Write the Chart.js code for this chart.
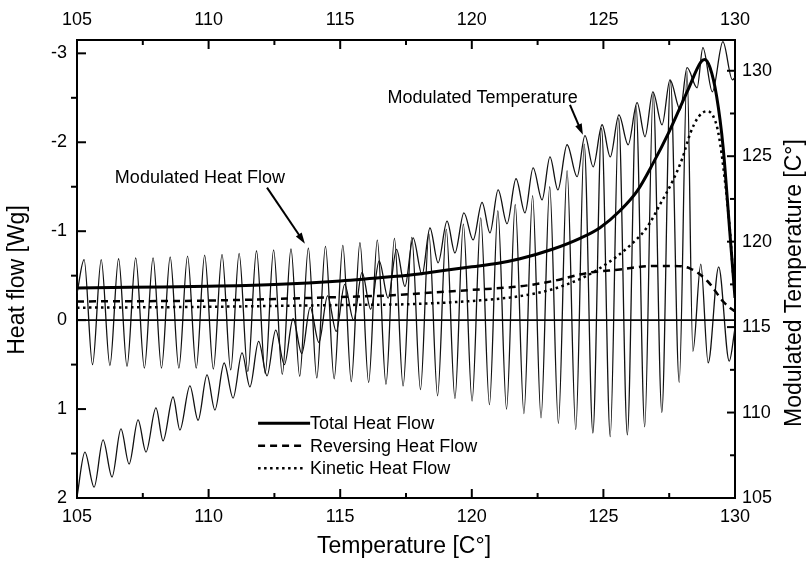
<!DOCTYPE html>
<html>
<head>
<meta charset="utf-8">
<script src="https://cdn.jsdelivr.net/npm/chart.js@4.4.1/dist/chart.umd.min.js"></script>
<style>
  body { margin: 0; background: #fff; }
</style>
</head>
<body>
<canvas id="chart" width="808" height="566"></canvas>
<script>
// tick values
const tempTicks = [105, 110, 115, 120, 125, 130];
const tempMinor = [107.5, 112.5, 117.5, 122.5, 127.5];
const flowTicks = [-3, -2, -1, 0, 1, 2];
const flowMinor = [-2.5, -1.5, -0.5, 0.5, 1.5];
const modTempTicks = [105, 110, 115, 120, 125, 130];
const modTempMinor = [107.5, 112.5, 117.5, 122.5, 127.5];

const flowStart = [105.0, -0.30];
const flowPeakT = [105.27, 105.92, 106.58, 107.23, 107.89, 108.54, 109.20, 109.85, 110.51, 111.16,
  111.82, 112.47, 113.13, 113.79, 114.44, 115.10, 115.75, 116.41, 117.06, 117.72,
  118.37, 119.03, 119.68, 120.34, 120.99, 121.65, 122.31, 122.96, 123.62, 124.27,
  124.93, 125.58, 126.24, 126.89, 127.55, 128.18, 128.70, 129.38];
const flowPeakV = [-0.68, -0.68, -0.69, -0.70, -0.70, -0.71, -0.72, -0.73, -0.74, -0.75,
  -0.78, -0.79, -0.80, -0.81, -0.83, -0.84, -0.87, -0.90, -0.92, -0.93,
  -0.97, -1.02, -1.08, -1.15, -1.23, -1.30, -1.40, -1.50, -1.68, -1.98,
  -2.16, -2.27, -2.41, -2.55, -2.69, -2.80, -0.63, -0.60];
const flowTroughT = [105.59, 106.25, 106.90, 107.56, 108.21, 108.87, 109.53, 110.18, 110.84, 111.49,
  112.15, 112.80, 113.46, 114.11, 114.77, 115.42, 116.08, 116.74, 117.39, 118.05,
  118.70, 119.36, 120.01, 120.67, 121.32, 121.98, 122.63, 123.29, 123.95, 124.60,
  125.26, 125.91, 126.57, 127.22, 127.88, 128.40, 128.98, 129.78];
const flowTroughV = [0.50, 0.51, 0.52, 0.54, 0.54, 0.54, 0.54, 0.55, 0.56, 0.58,
  0.60, 0.61, 0.63, 0.65, 0.66, 0.69, 0.70, 0.72, 0.74, 0.78,
  0.85, 0.88, 0.91, 0.95, 1.00, 1.05, 1.10, 1.16, 1.23, 1.27,
  1.31, 1.29, 1.20, 1.04, 0.70, 0.35, 0.48, 0.46];
const flowEnd = [130.0, 0.09];

// modulated temperature, peaks and troughs [°C, right axis]
const tempStart = [105.0, 105.06];
const tempPeakT = [105.30, 105.99, 106.67, 107.32, 108.00, 108.65, 109.29, 109.94, 110.59, 111.27,
  111.90, 112.55, 113.21, 113.86, 114.52, 115.17, 115.83, 116.48, 117.14, 117.77,
  118.41, 119.06, 119.70, 120.39, 121.00, 121.68, 122.33, 122.97, 123.62, 124.30,
  124.95, 125.59, 126.28, 126.88, 127.53, 128.18, 128.78, 129.54];
const tempPeakV = [107.69, 108.40, 109.04, 109.57, 110.27, 110.91, 111.56, 112.20, 112.90, 113.49,
  114.16, 114.82, 115.49, 116.16, 116.83, 117.50, 118.20, 118.88, 119.55, 120.22,
  120.80, 121.20, 121.69, 122.30, 123.03, 123.68, 124.32, 124.96, 125.67, 126.20,
  126.84, 127.42, 128.13, 128.77, 129.47, 130.18, 131.35, 131.70];
const tempTroughT = [105.65, 106.33, 106.98, 107.62, 108.27, 108.91, 109.60, 110.24, 110.93, 111.57,
  112.22, 112.88, 113.54, 114.19, 114.85, 115.51, 116.16, 116.82, 117.46, 118.11,
  118.72, 119.36, 120.05, 120.69, 121.34, 122.02, 122.67, 123.27, 124.00, 124.61,
  125.26, 125.94, 126.58, 127.23, 127.92, 128.56, 129.14, 129.90];
const tempTroughV = [105.64, 106.23, 106.99, 107.69, 108.34, 108.98, 109.55, 110.15, 110.85, 111.50,
  112.15, 112.80, 113.45, 114.10, 114.75, 115.40, 116.05, 116.70, 117.38, 118.06,
  118.76, 119.34, 120.10, 120.51, 121.05, 121.69, 122.45, 123.03, 123.80, 124.38,
  124.96, 125.67, 126.14, 126.84, 127.72, 129.00, 128.77, 129.47];
const tempEnd = [130.0, 129.60];

// total / reversing / kinetic heat flow
const totalT = [105, 107, 110, 112.5, 115, 117, 118, 119, 120, 121, 121.83, 123.09, 124.11, 124.87, 125.63, 126.28,
  126.88, 127.5, 128.2, 128.7, 128.85, 129.05, 129.3, 129.55, 129.8, 130];
const totalV = [-0.36, -0.37, -0.38, -0.40, -0.44, -0.49, -0.52, -0.56, -0.60, -0.64, -0.69, -0.80, -0.92, -1.04, -1.23, -1.45,
  -1.76, -2.12, -2.58, -2.90, -2.93, -2.84, -2.52, -1.94, -1.00, -0.25];
const reversingT = [105, 110, 115, 117, 118, 120, 121.83, 123.09, 124.38, 125.63, 126.88, 127.6, 128.3, 128.95, 129.55, 129.8, 130];
const reversingV = [-0.21, -0.22, -0.26, -0.28, -0.30, -0.34, -0.38, -0.44, -0.53, -0.57, -0.61, -0.61, -0.58, -0.44, -0.21, -0.14, -0.10];
const kineticT = [105, 110, 115, 117.65, 120.2, 121.83, 123.09, 124.38, 125.1, 125.9, 126.65, 127.15, 127.64, 128.0,
  128.3, 128.6, 128.94, 129.16, 129.35, 129.54, 129.81, 129.92, 130];
const kineticV = [-0.14, -0.15, -0.17, -0.18, -0.22, -0.27, -0.35, -0.50, -0.63, -0.81, -1.04, -1.30, -1.57, -1.82,
  -2.10, -2.28, -2.35, -2.30, -2.13, -1.76, -1.00, -0.55, -0.32];

const zeroT = [105, 130];
const zeroV = [0, 0];

const FONT = '"Liberation Sans", Arial, sans-serif';

function pairs(xs, ys) {
  return xs.map((x, i) => ({ x: x, y: ys[i] }));
}

function waves(start, pT, pV, tT, tV, end) {
  const pts = [{ x: start[0], y: start[1] }];
  pT.forEach((x, i) => {
    pts.push({ x: x, y: pV[i] });
    pts.push({ x: tT[i], y: tV[i] });
  });
  pts.push({ x: end[0], y: end[1] });
  return pts;
}

// text notes with arrows, in data units
const notes = [
  { text: 'Modulated Heat Flow', axis: 'y', at: [109.67, -1.54], from: [112.22, -1.49], to: [113.66, -0.86] },
  { text: 'Modulated Temperature', axis: 'yT', at: [120.41, 128.13], from: [123.73, 128.0], to: [124.22, 126.25] }
];

const legendRows = [
  { label: 'Total Heat Flow', ds: 0, len: 52 },
  { label: 'Reversing Heat Flow', ds: 1, len: 44 },
  { label: 'Kinetic Heat Flow', ds: 2, len: 48 }
];

function arrow(ctx, x1, y1, x2, y2) {
  const ang = Math.atan2(y2 - y1, x2 - x1), L = 11, W = 3.5;
  const c = Math.cos(ang), s = Math.sin(ang);
  ctx.beginPath();
  ctx.moveTo(x1, y1);
  ctx.lineTo(x2 - L * c * 0.7, y2 - L * s * 0.7);
  ctx.stroke();
  ctx.beginPath();
  ctx.moveTo(x2, y2);
  ctx.lineTo(x2 - L * c + W * s, y2 - L * s - W * c);
  ctx.lineTo(x2 - L * c - W * s, y2 - L * s + W * c);
  ctx.closePath();
  ctx.fill();
}

const decor = {
  id: 'decor',
  afterDatasetsDraw(chart) {
    const ctx = chart.ctx, a = chart.chartArea, sc = chart.scales;
    const sx = sc.x, sy = sc.y, st = sc.yT;
    ctx.save();
    ctx.strokeStyle = '#000';
    ctx.fillStyle = '#000';
    ctx.lineWidth = 2;
    const seg = (x1, y1, x2, y2) => { ctx.beginPath(); ctx.moveTo(x1, y1); ctx.lineTo(x2, y2); ctx.stroke(); };

    // ticks drawn inward like the original
    tempTicks.forEach(v => { const x = sx.getPixelForValue(v); seg(x, a.bottom, x, a.bottom - 9); seg(x, a.top, x, a.top + 9); });
    tempMinor.forEach(v => { const x = sx.getPixelForValue(v); seg(x, a.bottom, x, a.bottom - 5); seg(x, a.top, x, a.top + 5); });
    flowTicks.forEach(v => { const y = sy.getPixelForValue(v); seg(a.left, y, a.left + 9, y); });
    flowMinor.forEach(v => { const y = sy.getPixelForValue(v); seg(a.left - 6, y, a.left, y); });
    modTempTicks.forEach(v => { const y = st.getPixelForValue(v); seg(a.right - 8, y, a.right, y); });
    modTempMinor.forEach(v => { const y = st.getPixelForValue(v); seg(a.right - 5, y, a.right, y); });

    // notes
    ctx.font = '18px ' + FONT;
    ctx.textAlign = 'center';
    ctx.textBaseline = 'alphabetic';
    notes.forEach(n => {
      const ys = sc[n.axis];
      ctx.fillText(n.text, sx.getPixelForValue(n.at[0]), ys.getPixelForValue(n.at[1]));
      ctx.lineWidth = 2;
      arrow(ctx, sx.getPixelForValue(n.from[0]), ys.getPixelForValue(n.from[1]),
        sx.getPixelForValue(n.to[0]), ys.getPixelForValue(n.to[1]));
    });

    // legend
    const lx = sx.getPixelForValue(111.88), ly = sy.getPixelForValue(1.16);
    ctx.textAlign = 'left';
    ctx.textBaseline = 'middle';
    legendRows.forEach((r, i) => {
      const ds = chart.data.datasets[r.ds];
      const y = ly + i * 22.5;
      ctx.save();
      ctx.lineWidth = ds.borderWidth;
      ctx.setLineDash(ds.borderDash || []);
      seg(lx, y, lx + r.len, y);
      ctx.restore();
      ctx.fillText(r.label, lx + 52, y + 1);
    });

    // axis titles
    ctx.font = '23px ' + FONT;
    ctx.textAlign = 'center';
    ctx.textBaseline = 'middle';
    const midY = (a.top + a.bottom) / 2;
    ctx.save();
    ctx.translate(a.left - 59, midY + 11);
    ctx.rotate(-Math.PI / 2);
    ctx.fillText('Heat flow [Wg]', 0, 0);
    ctx.restore();
    ctx.save();
    ctx.translate(a.right + 60, midY + 14);
    ctx.rotate(-Math.PI / 2);
    ctx.fillText('Modulated Temperature [C°]', 0, 0);
    ctx.restore();
    ctx.fillText('Temperature [C°]', (a.left + a.right) / 2 - 2, a.bottom + 49);
    ctx.restore();
  }
};

function axis(position, min, max, ticks, size, extra) {
  return Object.assign({
    type: 'linear',
    position: position,
    min: min,
    max: max,
    afterBuildTicks: s => { s.ticks = ticks.map(v => ({ value: v })); },
    afterFit: s => {
      if (position === 'left' || position === 'right') s.width = size; else s.height = size;
    },
    grid: { display: true, drawOnChartArea: false, drawTicks: false },
    border: { display: true, color: '#000', width: 2 },
    ticks: { color: '#000', font: { family: FONT, size: 18 }, maxRotation: 0, padding: 8 }
  }, extra || {});
}

const xBottom = axis('bottom', 105, 130, tempTicks, 68);
const xTop = axis('top', 105, 130, tempTicks, 40);
xTop.ticks.padding = 9;
const yFlow = axis('left', -3.15, 2.0, flowTicks, 77, { reverse: true });
yFlow.ticks.padding = 10;
const yTemp = axis('right', 105, 131.8, modTempTicks, 73);
yTemp.ticks.padding = 7;

new Chart(document.getElementById('chart'), {
  type: 'line',
  data: {
    datasets: [
      { label: 'Total Heat Flow', data: pairs(totalT, totalV), xAxisID: 'x', yAxisID: 'y',
        borderColor: '#000', borderWidth: 3 },
      { label: 'Reversing Heat Flow', data: pairs(reversingT, reversingV), xAxisID: 'x', yAxisID: 'y',
        borderColor: '#000', borderWidth: 2.5, borderDash: [7, 5] },
      { label: 'Kinetic Heat Flow', data: pairs(kineticT, kineticV), xAxisID: 'x', yAxisID: 'y',
        borderColor: '#000', borderWidth: 2.5, borderDash: [2.5, 3.5] },
      { label: 'zero', data: pairs(zeroT, zeroV), xAxisID: 'x', yAxisID: 'y',
        borderColor: '#000', borderWidth: 1.6 },
      { label: 'Modulated Heat Flow', data: waves(flowStart, flowPeakT, flowPeakV, flowTroughT, flowTroughV, flowEnd),
        xAxisID: 'x', yAxisID: 'y', borderColor: '#111', borderWidth: 1.3 },
      { label: 'Modulated Temperature', data: waves(tempStart, tempPeakT, tempPeakV, tempTroughT, tempTroughV, tempEnd),
        xAxisID: 'x', yAxisID: 'yT', borderColor: '#111', borderWidth: 1.3 }
    ]
  },
  options: {
    responsive: false,
    animation: false,
    layout: { padding: 0 },
    elements: {
      point: { radius: 0 },
      line: { cubicInterpolationMode: 'monotone', fill: false }
    },
    plugins: { legend: { display: false }, tooltip: { enabled: false } },
    scales: { x: xBottom, xTop: xTop, y: yFlow, yT: yTemp }
  },
  plugins: [decor]
});
</script>
</body>
</html>
